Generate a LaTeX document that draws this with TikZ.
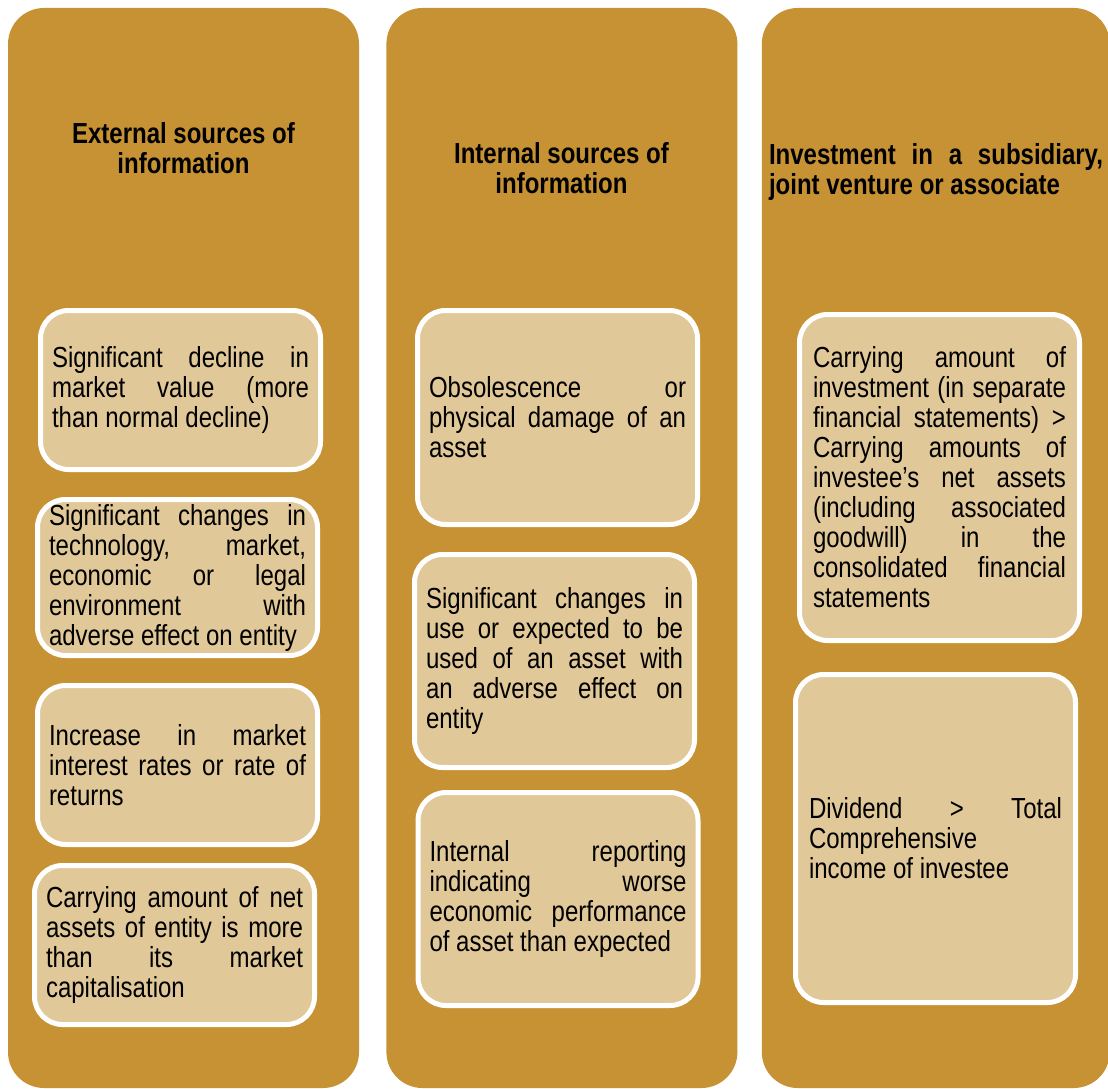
\documentclass[tikz,border=0pt]{standalone}
\usepackage{fontspec}
\setmainfont{Liberation Sans}[FakeStretch=0.828]
\definecolor{impGold}{HTML}{C79233}
\definecolor{impSand}{HTML}{E1C898}
\usetikzlibrary{positioning}
\hyphenpenalty=10000
\exhyphenpenalty=10000
\tolerance=10000
\tikzset{
    column node/.style={rectangle, fill=impGold, rounded corners=36pt, minimum width=351pt, minimum height=1080pt, inner sep=0pt},
    heading node/.style={font=\fontsize{29}{30}\selectfont\bfseries, align=center, inner sep=0pt},
    item node/.style={rectangle, draw=white, fill=impSand, line width=5pt, rounded corners=28pt, minimum width=280pt,
        text width=257pt, align=justify, inner sep=0pt, font=\fontsize{29}{30}\selectfont},
}

\begin{document}
\begin{tikzpicture}[x=1pt, y=-1pt]
        \useasboundingbox[fill=white] (0,0) rectangle (1108,1089);
        \node[column node] (colext) at (183.5,548) {};
        \node[column node, right=27pt of colext] (colint) {};
        \node[column node, right=24pt of colint, minimum width=348pt] (colinv) {};

        \node[heading node] (hext) at (183.5,148) {External sources of\\information};
        \node[heading node] (hint) at (561.5,168) {Internal sources of\\information};
        \node[heading node, text width=334pt, align=justify] (hinv) at (936,172) {Investment in a subsidiary,\linebreak joint venture or associate};

        \node[item node, minimum height=159pt] (ext1) at (180.5,390) {Significant decline in\linebreak market value (more\linebreak than normal decline)};
        \node[item node, minimum height=156pt, below=25pt of ext1, xshift=-3pt] (ext2) {Significant changes in\linebreak technology, market,\linebreak economic or legal\linebreak environment with\linebreak adverse effect on entity};
        \node[item node, minimum height=159pt, below=25pt of ext2] (ext3) {Increase in market\linebreak interest rates or rate of\linebreak returns};
        \node[item node, minimum height=159pt, below=16pt of ext3, xshift=-3pt] (ext4) {Carrying amount of net\linebreak assets of entity is more\linebreak than its market\linebreak capitalisation};

        \node[item node, minimum height=214pt] (int1) at (557.5,417.5) {Obsolescence or\linebreak physical damage of an\linebreak asset};
        \node[item node, minimum height=213pt, below=25pt of int1, xshift=-3pt] (int2) {Significant changes in\linebreak use or expected to be\linebreak used of an asset with\linebreak an adverse effect on\linebreak entity};
        \node[item node, minimum height=213pt, below=20pt of int2, xshift=3.5pt] (int3) {Internal reporting\linebreak indicating worse\linebreak economic performance\linebreak of asset than expected};

        \node[item node, minimum height=326pt, text width=253pt] (inv1) at (939.5,477.5) {Carrying amount of\linebreak investment (in separate\linebreak financial statements) >\linebreak Carrying amounts of\linebreak investee's net assets\linebreak (including associated\linebreak goodwill) in the\linebreak consolidated financial\linebreak statements};
        \node[item node, minimum height=328pt, text width=253pt, below=29pt of inv1, xshift=-4pt] (inv2) {Dividend > Total\linebreak Comprehensive\linebreak income of investee};
    \end{tikzpicture}
\end{document}
